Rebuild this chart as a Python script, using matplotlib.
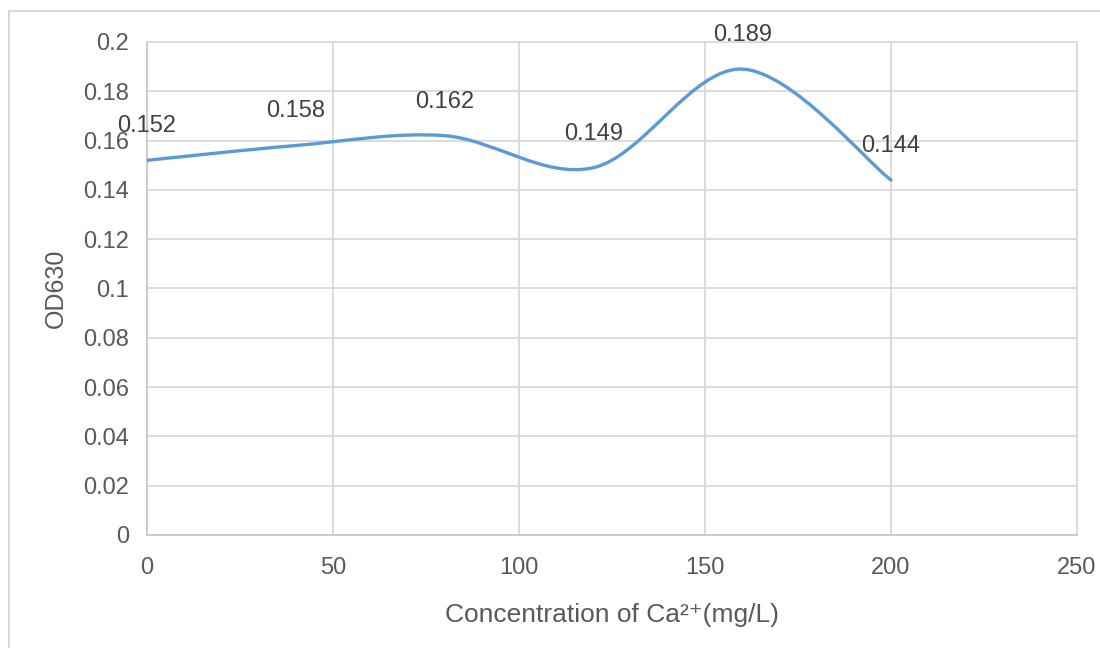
import numpy as np
import matplotlib
matplotlib.use("Agg")
import matplotlib.pyplot as plt
from matplotlib.path import Path
from matplotlib.patches import PathPatch
from matplotlib.lines import Line2D
from matplotlib.ticker import MultipleLocator, FuncFormatter

# data
ca_conc = [0, 40, 80, 120, 160, 200]          # mg/L
od630 = [0.152, 0.158, 0.162, 0.149, 0.189, 0.144]
point_labels = ["0.152", "0.158", "0.162", "0.149", "0.189", "0.144"]

plt.rcParams["font.family"] = ["Liberation Sans", "DejaVu Sans"]

GRID = "#d9d9d9"
TXT = "#595959"
LINE = "#5b9bd5"


def smooth_path(x, y):
    # Excel-style smoothed line: Catmull-Rom segments as cubic Bezier
    pts = np.column_stack([x, y]).astype(float)
    ext = np.vstack([pts[0], pts, pts[-1]])
    verts, codes = [pts[0]], [Path.MOVETO]
    for i in range(1, len(ext) - 2):
        p0, p1, p2, p3 = ext[i - 1], ext[i], ext[i + 1], ext[i + 2]
        verts += [p1 + (p2 - p0) / 6, p2 - (p3 - p1) / 6, p2]
        codes += [Path.CURVE4] * 3
    return Path(verts, codes)


fig = plt.figure(figsize=(11, 6.48), dpi=100)
ax = fig.add_axes([0.1336, 0.1744, 0.8455, 0.7608])

# chart-area border (left and top edges only visible)
fig.add_artist(Line2D([9 / 1100, 9 / 1100], [0, 1 - 11 / 648], transform=fig.transFigure,
                      color=GRID, lw=1.5))
fig.add_artist(Line2D([9 / 1100, 1], [1 - 11 / 648, 1 - 11 / 648], transform=fig.transFigure,
                      color=GRID, lw=1.5))

ax.add_patch(PathPatch(smooth_path(ca_conc, od630), fill=False, edgecolor=LINE,
                       lw=2.4, capstyle="round", joinstyle="round", zorder=3))

for xv, yv, lab in zip(ca_conc, od630, point_labels):
    ax.annotate(lab, (xv, yv), xytext=(0, 24.5), textcoords="offset points",
                ha="center", va="center", fontsize=17, color="#404040", zorder=4)

ax.set_xlim(0, 250)
ax.set_ylim(0, 0.2)
ax.xaxis.set_major_locator(MultipleLocator(50))
ax.yaxis.set_major_locator(MultipleLocator(0.02))
ax.yaxis.set_major_formatter(FuncFormatter(lambda v, p: f"{v:.2f}".rstrip("0").rstrip(".")))
ax.grid(True, color=GRID, lw=1.3)
ax.set_axisbelow(True)
for s in ax.spines.values():
    s.set_color(GRID)
    s.set_linewidth(1.3)
ax.spines["bottom"].set_color("#c8c8c8")
ax.spines["left"].set_color("#c8c8c8")
ax.tick_params(length=0, labelsize=17, labelcolor=TXT)
ax.tick_params(axis="y", pad=13)
ax.tick_params(axis="x", pad=16)

ax.set_xlabel("Concentration of Ca²⁺(mg/L)", fontsize=19, color=TXT, labelpad=17)
ax.set_ylabel("OD630", fontsize=18, color=TXT, labelpad=11)

fig.savefig("out.png", dpi=100)
